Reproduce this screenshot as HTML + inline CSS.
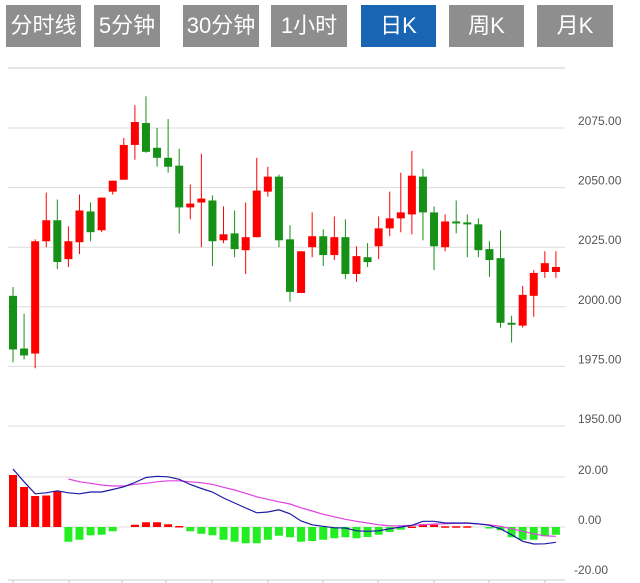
<!DOCTYPE html>
<html><head><meta charset="utf-8">
<style>
body{margin:0;width:640px;height:583px;background:#fff;overflow:hidden;font-family:"Liberation Sans","Noto Sans CJK SC",sans-serif;}
.btn{position:absolute;top:5px;height:42px;line-height:42px;background:#8e8e8e;color:#fff;font-size:22px;text-align:center;}
.btn.on{background:#1a64b4;}
svg{position:absolute;left:0;top:0;}
</style></head><body>
<div class="btn" style="left:6px;width:75px">分时线</div>
<div class="btn" style="left:94px;width:66px">5分钟</div>
<div class="btn" style="left:183px;width:76px">30分钟</div>
<div class="btn" style="left:271px;width:76px">1小时</div>
<div class="btn on" style="left:361px;width:75px">日K</div>
<div class="btn" style="left:449px;width:75px">周K</div>
<div class="btn" style="left:537px;width:76px">月K</div>
<svg id="chart" width="640" height="583"></svg>
<script>
const opens=[2004.6,1982.5,1980.4,2027.5,2036.3,2020,2027.1,2040,2032.1,2048.3,2053.3,2067.9,2077.1,2066.7,2062.5,2059.2,2041.7,2043.75,2044.6,2027.9,2030.8,2023.75,2029.2,2048.3,2054.6,2028.3,2005.8,2025,2029.6,2021.7,2029.2,2013.75,2020.8,2025.4,2032.9,2037.1,2038.75,2054.6,2039.6,2025,2035.8,2035.4,2034.6,2024.2,2020.4,1993.3,1992.1,2004.6,2014.6,2014.6];
const closes=[1982.1,1979.6,2027.5,2036.3,2018.8,2027.5,2040.4,2031.3,2045.8,2052.9,2067.9,2077.5,2065,2062.5,2058.75,2041.7,2043.3,2045.4,2027.5,2030.4,2024.2,2029.2,2048.75,2054.6,2027.9,2006.25,2023.3,2029.6,2021.7,2029.2,2013.75,2021.25,2018.75,2032.9,2037.1,2039.6,2055,2039.6,2025.4,2035.8,2035,2034.6,2023.75,2019.6,1993.3,1992.5,2005,2014.2,2018.3,2016.7];
const highs=[2008.3,1997.1,2028.3,2047.9,2045,2033.8,2047.1,2043.8,2045.8,2052.9,2070.8,2084.6,2088.3,2075,2078.75,2066.3,2051.25,2064.2,2046.7,2042.1,2040.4,2043.75,2062.5,2058.75,2055.4,2034.2,2023.3,2039.6,2032.5,2037.9,2036.7,2025.4,2026.7,2037.9,2048.3,2056.25,2065.4,2057.9,2042.1,2038.75,2044.6,2038.75,2037.1,2027.5,2032.1,1996.25,2008.75,2015.4,2023.3,2023.3];
const lows=[1976.7,1977.9,1974.2,2025,2015.8,2016.7,2022.1,2027.5,2031.3,2047.1,2053.3,2061.7,2064.6,2058.75,2056.25,2030.8,2036.7,2025,2017.1,2026.7,2020.8,2013.75,2029.2,2046.25,2025,2002.1,2005.8,2020.8,2017.1,2019.6,2011.7,2010.4,2016.7,2020,2029.6,2031.25,2030.4,2027.9,2015.4,2023.3,2030.8,2020.8,2020.8,2012.5,1991.25,1985,1991.25,1995.8,2012.1,2012.1];
const macdHist=[20.8,16,12.4,12.6,14.4,-5.9,-5.1,-3.3,-3.1,-1.7,0,0.9,1.9,1.9,1.1,0.4,-1.7,-2.7,-3.3,-5.1,-5.9,-6.5,-6.5,-5.1,-3.5,-4.1,-5.9,-5.6,-5.1,-4.5,-4.1,-4.5,-4,-3.1,-2,-1.1,0.2,1.1,0.9,0.3,0.3,0.3,0,-0.4,-1.3,-4.1,-5.1,-5.1,-3.7,-3.1];
const difLine=[23.2,18.1,13.3,13.7,14.5,13.7,13.3,14,14,15,16.1,17.8,19.8,20.3,20.1,19.1,17,15.4,14,11.6,9.6,7.6,5.7,6,6.9,5.3,2.4,0.9,0.3,-0.3,-0.4,-1.5,-1.7,-1.5,-0.7,0,0.7,2.3,2.3,1.6,1.6,1.6,1.3,0.7,-0.7,-3.1,-5.7,-6.8,-6.7,-6.1];
const deaLine=[null,null,null,null,null,19.2,18.1,17.5,16.8,16.4,16.4,17.1,17.5,18.1,18.5,18.5,18.1,17.7,17.1,15.9,14.8,13.5,12.1,11.1,10.1,9.2,7.7,6.4,5.1,4.1,3.1,2.3,1.6,0.9,0.5,0.5,0.7,0.9,1.2,1.3,1.5,1.5,1.2,0.9,0.3,-0.7,-1.7,-2.7,-3.5,-3.7];
const priceTicks=[2075,2050,2025,2000,1975,1950];
const macdTicks=[20,0,-20];

const NS='http://www.w3.org/2000/svg';
const svg=document.getElementById('chart');
const xOf=i=>13+i*11.08;
const yP=v=>128+(2075-v)*2.384;
const yM=v=>527-v*2.5;
function mk(tag,attrs,parent){const e=document.createElementNS(NS,tag);for(const k in attrs)e.setAttribute(k,attrs[k]);(parent||svg).appendChild(e);return e;}

const topLine=mk('line',{x1:8,x2:565,y1:68,y2:68,stroke:'#e6e6e6','stroke-width':2});


priceTicks.forEach(v=>{
  const g=mk('line',{x1:8,x2:565,y1:yP(v),y2:yP(v),stroke:'#dcdcdc','stroke-width':1});
  
  
  const t=mk('text',{x:578,y:yP(v)-3,'font-size':12,fill:'#555'});
  t.textContent=v.toFixed(2);
  
  
});
macdTicks.forEach(v=>{
  if(v>-20){const g=mk('line',{x1:8,x2:565,y1:yM(v),y2:yM(v),stroke:'#dcdcdc','stroke-width':1});
  
  }
  const t=mk('text',{x:v<0?574:578,y:yM(v)-3,'font-size':12,fill:'#555'});
  t.textContent=v.toFixed(2);
  
  
});
const ax=mk('line',{x1:8,x2:565,y1:580,y2:580,stroke:'#ccc','stroke-width':1});


[13,69,122,166,212,268,323,378,434,489,545].forEach(x=>{
  const tk=mk('line',{x1:x,x2:x,y1:580,y2:584,stroke:'#b8c4d8'});
  
  
});

opens.forEach((o,i)=>{
  const c=closes[i],up=c>=o,col=up?'#f00':'#169016',x=xOf(i);
  const w=mk('line',{x1:x,x2:x,y1:yP(highs[i]),y2:yP(lows[i]),stroke:col,'stroke-width':1});
  
  
  const yt=yP(Math.max(o,c)),yb=yP(Math.min(o,c));
  const b=mk('rect',{x:x-4,y:yt,width:8,height:Math.max(2,yb-yt),fill:col});
  
  
});
macdHist.forEach((v,i)=>{
  if(v===0)return;
  const x=xOf(i),y0=yM(0),y1=yM(v);
  const r=mk('rect',{x:x-4,y:Math.min(y0,y1),width:8,height:Math.max(1.5,Math.abs(y1-y0)),fill:v>0?'#f00':'#22ee22'});
  
  
});
function path(arr,col,name){
  let d='';arr.forEach((v,i)=>{if(v==null)return;d+=(d?'L':'M')+xOf(i).toFixed(1)+','+yM(v).toFixed(1);});
  const p=mk('path',{d:d,fill:'none',stroke:col,'stroke-width':1.2});
  
  
}
path(deaLine,'#e040e0','dea-line');
path(difLine,'#1a1aa8','dif-line');
</script>
</body></html>
